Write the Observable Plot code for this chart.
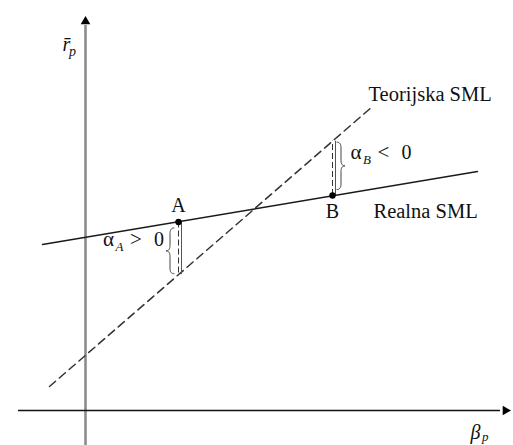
<!DOCTYPE html>
<html><head><meta charset="utf-8">
<script src="https://cdn.jsdelivr.net/npm/d3@7"></script>
<script src="https://cdn.jsdelivr.net/npm/@observablehq/plot@0.6"></script>
<style>body{margin:0;background:#fff}svg{display:block;background:#fff}</style>
</head><body><div id="chart"></div>
<script>
// Security market line: theoretical (dashed) versus realised (solid)
const teorijskaSML = [{beta: -0.72, r: 0.48}, {beta: 5.74, r: 6.08}];
const realnaSML = [{beta: -0.86, r: 3.32}, {beta: 7.84, r: 4.78}];
const portfolioNames = ["A", "B"];
const portfolioBeta = [1.86, 4.94];
const portfolioReturn = [3.77, 4.30];
const alphaSigns = [">", "<"];
const lineLabels = [{text: "Teorijska SML", beta: 5.66, r: 6.2}, {text: "Realna SML", beta: 5.76, r: 3.86}];
// where each alpha annotation starts, and which side of the gap its brace sits on
const alphaLabelBeta = [0.35, 5.3];
const alphaLabelReturn = [3.3, 5.04];
const braceSide = [-1, 1];
// point names sit above A and below B
const nameOffset = [-10, 23];
// axis extents (beta, r)
const betaAxis = [-1.34, 8.3];
const returnAxis = [-0.7, 7.7];

const serif = "Liberation Serif, DejaVu Serif, serif";

// return the theoretical SML predicts at a given beta
const [t0, t1] = teorijskaSML;
const theoretical = b => t0.r + (b - t0.beta) * (t1.r - t0.r) / (t1.beta - t0.beta);

const portfolios = portfolioNames.map((name, i) => ({
  name, beta: portfolioBeta[i], r: portfolioReturn[i], rT: theoretical(portfolioBeta[i]),
  sign: alphaSigns[i], lb: alphaLabelBeta[i], lr: alphaLabelReturn[i], side: braceSide[i], off: nameOffset[i]
}));

// curly brace spanning the alpha gap, sampled from quadratic curves
function brace(p) {
  const xe = p.beta + p.side * 0.09, xt = p.beta + p.side * 0.25, xm = (xe + xt) / 2;
  const dir = Math.sign(p.rT - p.r);
  const ya = p.r + dir * 0.12, yb = p.rT - dir * 0.02, ym = (ya + yb) / 2;
  const c = (yb - ya) * 0.12;
  const pts = [];
  const quad = (a, k, b) => { for (let i = 1; i <= 10; i++) { const t = i / 10, u = 1 - t;
    pts.push({beta: u*u*a[0] + 2*u*t*k[0] + t*t*b[0], r: u*u*a[1] + 2*u*t*k[1] + t*t*b[1], name: p.name}); } };
  pts.push({beta: xe, r: ya, name: p.name});
  quad([xe, ya], [xm, ya], [xm, ya + c]);
  pts.push({beta: xm, r: ym - c, name: p.name});
  quad([xm, ym - c], [xm, ym], [xt, ym]);
  quad([xt, ym], [xm, ym], [xm, ym + c]);
  pts.push({beta: xm, r: yb - c, name: p.name});
  quad([xm, yb - c], [xm, yb], [xe, yb]);
  return pts;
}
const braces = portfolios.flatMap(brace);

const chart = Plot.plot({
  width: 513, height: 445, margin: 0,
  x: {domain: [-1.7, 8.56], axis: null},
  y: {domain: [-0.7, 8.2], axis: null},
  style: {background: "#fff"},
  marks: [
    // axes
    Plot.ruleX([0], {y1: returnAxis[0], y2: returnAxis[1], stroke: "#8c8c8c", strokeWidth: 2.6}),
    Plot.ruleY([0], {x1: betaAxis[0], x2: betaAxis[1], stroke: "#111", strokeWidth: 1.4}),
    Plot.dot([{beta: 0, r: returnAxis[1] + 0.08}], {x: "beta", y: "r", symbol: "triangle2", r: 4.6, fill: "#000", stroke: null}),
    Plot.dot([{beta: betaAxis[1] + 0.1, r: 0}], {x: "beta", y: "r", symbol: "triangle2", r: 4.6, fill: "#000", stroke: null, rotate: 90}),
    // SML lines
    Plot.line(teorijskaSML, {x: "beta", y: "r", stroke: "#333", strokeWidth: 1.5, strokeDasharray: "8,5"}),
    Plot.line(realnaSML, {x: "beta", y: "r", stroke: "#1a1a1a", strokeWidth: 1.4}),
    // alpha gaps: paired dashed/solid verticals
    Plot.ruleX(portfolios, {x: "beta", y1: "r", y2: "rT", stroke: "#333", strokeWidth: 1, strokeDasharray: "6,3"}),
    Plot.ruleX(portfolios, {x: "beta", y1: "r", y2: "rT", dx: 3, stroke: "#555", strokeWidth: 1}),
    Plot.line(braces, {x: "beta", y: "r", z: "name", stroke: "#444", strokeWidth: 1}),
    Plot.dot(portfolios, {x: "beta", y: "r", r: 3.2, fill: "#000", stroke: null}),
    // labels
    Plot.text(portfolios.slice(0, 1), {x: "beta", y: "r", text: "name", dy: -10, lineAnchor: "bottom", fontFamily: serif, fontSize: 20, fill: "#111"}),
    Plot.text(portfolios.slice(1), {x: "beta", y: "r", text: "name", dy: 22, lineAnchor: "bottom", fontFamily: serif, fontSize: 20, fill: "#111"}),
    Plot.text(lineLabels, {x: "beta", y: "r", text: "text", textAnchor: "start", lineAnchor: "bottom", fontFamily: serif, fontSize: 20.5, fill: "#111"}),
    Plot.text(portfolios, {x: "lb", y: "lr", text: () => "α", textAnchor: "start", lineAnchor: "bottom", fontFamily: serif, fontSize: 21, fill: "#111"}),
    Plot.text(portfolios, {x: "lb", y: "lr", text: "name", dx: 12.5, dy: 5, textAnchor: "start", lineAnchor: "bottom", fontFamily: serif, fontStyle: "italic", fontSize: 13, fill: "#111"}),
    Plot.text(portfolios, {x: "lb", y: "lr", text: "sign", dx: 27, textAnchor: "start", lineAnchor: "bottom", fontFamily: serif, fontSize: 21, fill: "#111"}),
    Plot.text(portfolios, {x: "lb", y: "lr", text: () => "0", dx: 51, textAnchor: "start", lineAnchor: "bottom", fontFamily: serif, fontSize: 20, fill: "#111"}),
    // axis titles
    Plot.text([{beta: -0.46, r: 7.2}], {x: "beta", y: "r", text: () => "r\u0304", textAnchor: "start", lineAnchor: "bottom", fontFamily: serif, fontStyle: "italic", fontSize: 20, fill: "#111"}),
    Plot.text([{beta: -0.46, r: 7.2}], {x: "beta", y: "r", text: () => "p", dx: 6.5, dy: 5, textAnchor: "start", lineAnchor: "bottom", fontFamily: serif, fontStyle: "italic", fontSize: 14, fill: "#111"}),
    Plot.text([{beta: 7.7, r: -0.56}], {x: "beta", y: "r", text: () => "β", textAnchor: "start", lineAnchor: "bottom", fontFamily: serif, fontStyle: "italic", fontSize: 20, fill: "#111"}),
    Plot.text([{beta: 7.7, r: -0.56}], {x: "beta", y: "r", text: () => "p", dx: 11.5, dy: 2.5, textAnchor: "start", lineAnchor: "bottom", fontFamily: serif, fontStyle: "italic", fontSize: 13, fill: "#111"})
  ]
});
document.getElementById("chart").append(chart);
</script>
</body></html>
